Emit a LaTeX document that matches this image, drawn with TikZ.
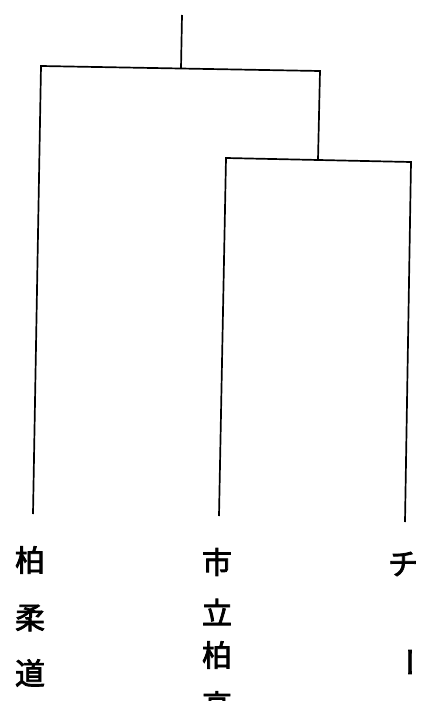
\documentclass[tikz,border=0pt]{standalone}
\usepackage{fontspec}
\newfontfamily\cjk[FakeBold=2.5]{Noto Sans CJK JP}
\tikzset{branch/.style={line width=1.7pt, line join=miter}}
\tikzset{kanji/.style={font=\cjk\fontsize{30}{30}\selectfont, inner sep=0pt}}

\begin{document}
\begin{tikzpicture}[x=1pt, y=-1pt]
\useasboundingbox (0,0) rectangle (427,701);
\clip (0,0) rectangle (427,701);

% tree points
\coordinate (root) at (182,15);
\coordinate (root-j) at (181,68.5);
\coordinate (top-l) at (41,66);
\coordinate (top-r) at (320,71);
\coordinate (low-j) at (318,160);
\coordinate (low-l) at (226,158);
\coordinate (low-r) at (411,162);
\coordinate (end-1) at (33,514);
\coordinate (end-2) at (219,516);
\coordinate (end-3) at (405,522);

\draw [branch] (root) -- (root-j);
\draw [branch] (end-1) -- (top-l) -- (top-r) -- (low-j);
\draw [branch] (end-2) -- (low-l) -- (low-r) -- (end-3);

% leaf labels, read top to bottom
\foreach \c/\y [count=\i] in {柏/560,柔/618,道/673}
\node [kanji] (left-\i) at (30,\y) {\c};

\foreach \c/\y [count=\i] in {市/562,立/612,柏/655,高/705}
\node [kanji] (mid-\i) at (217,\y) {\c};

\node [kanji] (right-1) at (403,564) {チ};
\node [kanji, rotate=-90] (right-2) at (405,662) {ー};
\end{tikzpicture}
\end{document}
